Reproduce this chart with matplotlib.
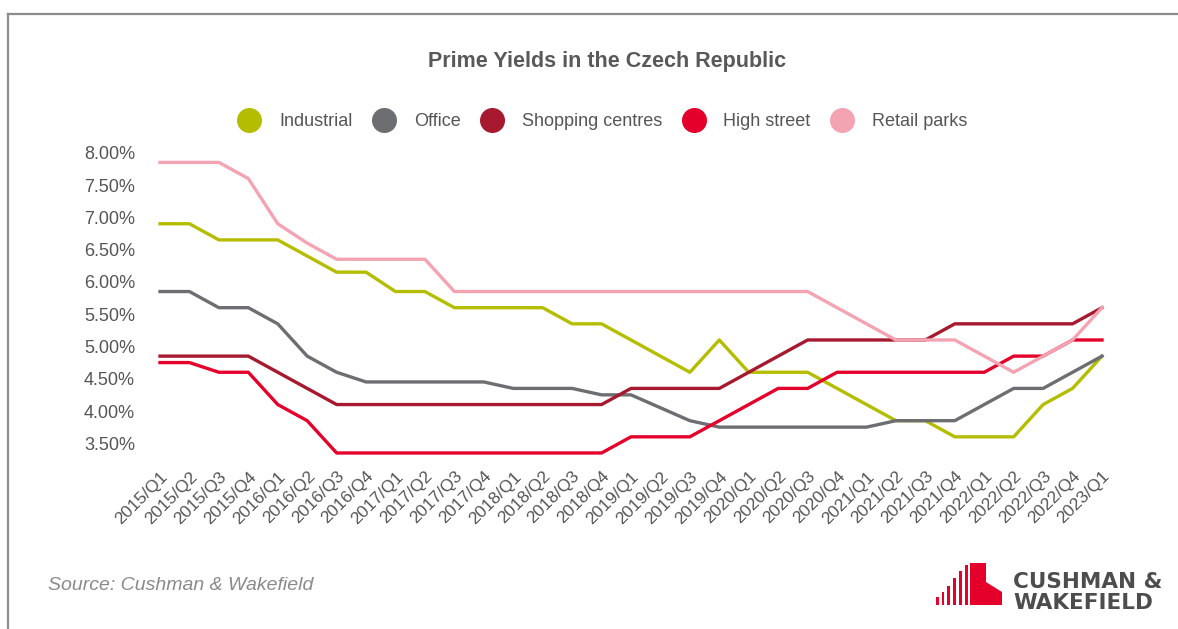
import numpy as np
import matplotlib.pyplot as plt
from matplotlib.lines import Line2D
from matplotlib.patches import Polygon, Rectangle
from matplotlib.ticker import FuncFormatter

plt.rcParams['font.family'] = ['Liberation Sans', 'DejaVu Sans']

quarters = ['2015/Q1', '2015/Q2', '2015/Q3', '2015/Q4',
            '2016/Q1', '2016/Q2', '2016/Q3', '2016/Q4',
            '2017/Q1', '2017/Q2', '2017/Q3', '2017/Q4',
            '2018/Q1', '2018/Q2', '2018/Q3', '2018/Q4',
            '2019/Q1', '2019/Q2', '2019/Q3', '2019/Q4',
            '2020/Q1', '2020/Q2', '2020/Q3', '2020/Q4',
            '2021/Q1', '2021/Q2', '2021/Q3', '2021/Q4',
            '2022/Q1', '2022/Q2', '2022/Q3', '2022/Q4',
            '2023/Q1']

industrial = [6.9, 6.9, 6.65, 6.65, 6.65, 6.4, 6.15, 6.15, 5.85, 5.85, 5.6,
              5.6, 5.6, 5.6, 5.35, 5.35, 5.1, 4.85, 4.6, 5.1, 4.6, 4.6,
              4.6, 4.35, 4.1, 3.85, 3.85, 3.6, 3.6, 3.6, 4.1, 4.35, 4.85]
office = [5.85, 5.85, 5.6, 5.6, 5.35, 4.85, 4.6, 4.45, 4.45, 4.45, 4.45,
          4.45, 4.35, 4.35, 4.35, 4.25, 4.25, 4.05, 3.85, 3.75, 3.75, 3.75,
          3.75, 3.75, 3.75, 3.85, 3.85, 3.85, 4.1, 4.35, 4.35, 4.6, 4.85]
shopping = [4.85, 4.85, 4.85, 4.85, 4.6, 4.35, 4.1, 4.1, 4.1, 4.1, 4.1,
            4.1, 4.1, 4.1, 4.1, 4.1, 4.35, 4.35, 4.35, 4.35, 4.6, 4.85,
            5.1, 5.1, 5.1, 5.1, 5.1, 5.35, 5.35, 5.35, 5.35, 5.35, 5.6]
high_street = [4.75, 4.75, 4.6, 4.6, 4.1, 3.85, 3.35, 3.35, 3.35, 3.35, 3.35,
               3.35, 3.35, 3.35, 3.35, 3.35, 3.6, 3.6, 3.6, 3.85, 4.1, 4.35,
               4.35, 4.6, 4.6, 4.6, 4.6, 4.6, 4.6, 4.85, 4.85, 5.1, 5.1]
retail_parks = [7.85, 7.85, 7.85, 7.6, 6.9, 6.6, 6.35, 6.35, 6.35, 6.35, 5.85,
                5.85, 5.85, 5.85, 5.85, 5.85, 5.85, 5.85, 5.85, 5.85, 5.85, 5.85,
                5.85, 5.6, 5.35, 5.1, 5.1, 5.1, 4.85, 4.6, 4.85, 5.1, 5.6]

names = ['Industrial', 'Office', 'Shopping centres', 'High street', 'Retail parks']
series = [industrial, office, shopping, high_street, retail_parks]
colors = ['#b5bd00', '#6d6e71', '#a6192e', '#e4002b', '#f4a3b3']

W, H = 1178, 629
fig = plt.figure(figsize=(W / 100, H / 100), dpi=100)


def fx(px):
    return px / W


def fy(py):
    return 1 - py / H


ax = fig.add_axes([fx(160), fy(456.2), fx(1102) - fx(160), fy(149.5) - fy(456.2)])
xs = np.arange(len(quarters))
for vals, c in zip(series, colors):
    ax.plot(xs, vals, color=c, lw=2.4, clip_on=False, solid_joinstyle='round')

ax.set_xlim(0, len(quarters) - 1)
ax.set_ylim(3.3, 8.05)
ax.set_yticks(np.arange(3.5, 8.01, 0.5))
ax.yaxis.set_major_formatter(FuncFormatter(lambda v, _: f'{v:.2f}%'))
ax.tick_params(axis='y', length=0, pad=18, labelsize=13, labelcolor='#555555')
ax.set_xticks(xs)
ax.set_xticklabels(quarters, rotation=45, ha='right', rotation_mode='anchor')
ax.tick_params(axis='x', length=0, pad=9, labelsize=12.5, labelcolor='#555555')
for s in ax.spines.values():
    s.set_visible(False)

fig.text(fx(607), fy(62), 'Prime Yields in the Czech Republic', fontsize=15.5,
         fontweight='bold', color='#595959', ha='center', va='center')

handles = [Line2D([], [], marker='o', ls='none', ms=17, mfc=c, mec=c) for c in colors]
fig.legend(handles, names, loc='center', bbox_to_anchor=(fx(602), fy(122)), ncol=5,
           frameon=False, fontsize=13, handlelength=1.4, handletextpad=0.95,
           columnspacing=1.05, labelcolor='#555555')

fig.text(fx(48), fy(585), 'Source: Cushman & Wakefield', fontsize=14, style='italic',
         color='#8a8a8a', va='center')

# frame lines
fig.add_artist(Line2D([fx(8), 1], [fy(14), fy(14)], color='#8c8c8c', lw=1.6))
fig.add_artist(Line2D([fx(8), fx(8)], [fy(14), 0], color='#8c8c8c', lw=1.6))

# logo
red = '#e4002b'
bars = [(936, 597), (941.5, 591.5), (947, 586), (953, 578), (959, 571), (965, 565)]
for x0, top in bars:
    fig.add_artist(Rectangle((fx(x0), fy(605)), fx(2.6), fy(top) - fy(605),
                             transform=fig.transFigure, color=red, lw=0))
block = [(970, 605), (970, 563), (986, 563), (986, 582), (1002, 592), (1002, 605)]
fig.add_artist(Polygon([(fx(a), fy(b)) for a, b in block], closed=True,
                       transform=fig.transFigure, color=red, lw=0))
fig.text(fx(1013), fy(582), 'CUSHMAN &', fontsize=15.5, fontweight='bold',
         family='DejaVu Sans', color='#4d4d4d', va='center')
fig.text(fx(1013), fy(603), 'WAKEFIELD', fontsize=15.5, fontweight='bold',
         family='DejaVu Sans', color='#4d4d4d', va='center')

fig.savefig('out.png', dpi=100)
